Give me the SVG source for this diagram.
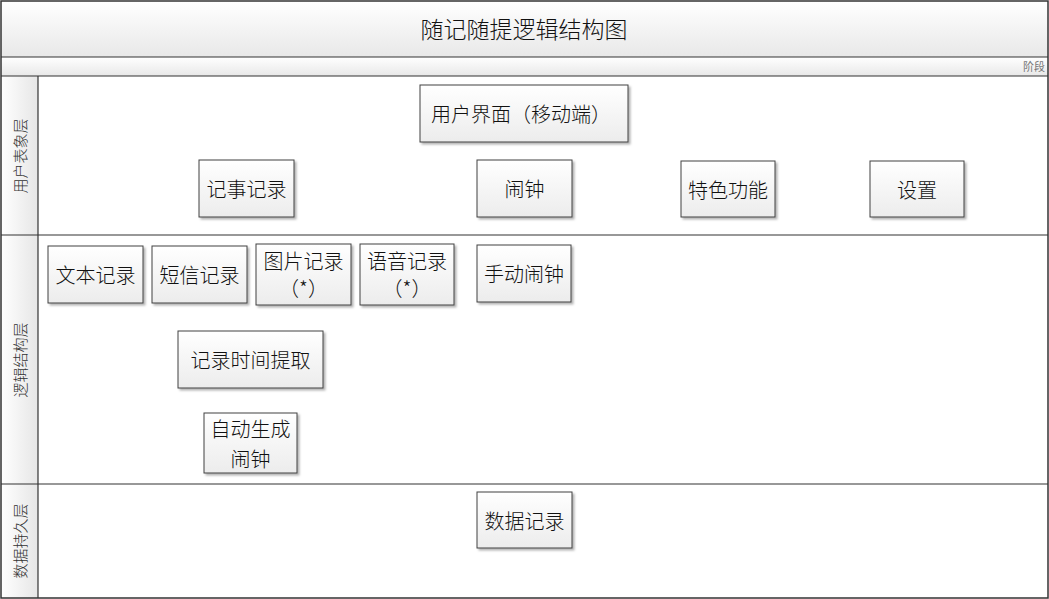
<svg xmlns="http://www.w3.org/2000/svg" width="1049" height="599" viewBox="0 0 1049 599">
<defs>
<linearGradient id="gv" x1="0" y1="0" x2="0" y2="1"><stop offset="0" stop-color="#ffffff"/><stop offset="1" stop-color="#e8e8e8"/></linearGradient>
<linearGradient id="gh" x1="0" y1="0" x2="1" y2="0"><stop offset="0" stop-color="#ffffff"/><stop offset="1" stop-color="#e6e6e6"/></linearGradient>
<linearGradient id="gb" x1="0" y1="0" x2="0" y2="1"><stop offset="0" stop-color="#ffffff"/><stop offset="1" stop-color="#ececec"/></linearGradient>
<filter id="sh" x="-10%" y="-10%" width="130%" height="130%"><feDropShadow dx="2" dy="2" stdDeviation="1.2" flood-color="#000" flood-opacity="0.3"/></filter>
</defs>
<style>
.frame{fill:none;stroke:#333;stroke-width:1.5}
.ln{stroke:#333;stroke-width:1.2}
.box{fill:url(#gb);stroke:#404040;stroke-width:1;filter:url(#sh)}
.t{font-family:"Noto Sans CJK SC","Liberation Sans",sans-serif;font-size:20px;font-weight:300;fill:#111;text-anchor:middle;dominant-baseline:central}
.lane{font-family:"Noto Sans CJK SC","Liberation Sans",sans-serif;font-size:15px;font-weight:300;fill:#333;text-anchor:middle;dominant-baseline:central}
</style>
<rect x="0" y="0" width="1049" height="599" fill="#fff"/>
<rect x="1" y="1" width="1047" height="56" fill="url(#gv)"/>
<rect x="1" y="57" width="1047" height="19" fill="url(#gv)"/>
<rect x="1" y="76" width="37" height="522" fill="url(#gh)"/>
<g id="frame">
<rect class="frame" x="1" y="1" width="1047" height="597"/>
<line class="ln" x1="1" y1="57" x2="1048" y2="57"/>
<line class="ln" x1="1" y1="76" x2="1048" y2="76"/>
<line class="ln" x1="1" y1="235" x2="1048" y2="235"/>
<line class="ln" x1="1" y1="484" x2="1048" y2="484"/>
<line class="ln" x1="38" y1="76" x2="38" y2="598"/>
</g>
<text x="524" y="28" font-family="'Noto Sans CJK SC','Liberation Sans',sans-serif" font-size="23" font-weight="300" fill="#111" text-anchor="middle" dominant-baseline="central">随记随提逻辑结构图</text>
<text x="1045" y="66" font-family="'Noto Sans CJK SC','Liberation Sans',sans-serif" font-size="11" fill="#777" text-anchor="end" dominant-baseline="central">阶段</text>
<text class="lane" transform="translate(19,156) rotate(-90)">用户表象层</text>
<text class="lane" transform="translate(19,360) rotate(-90)">逻辑结构层</text>
<text class="lane" transform="translate(19,541) rotate(-90)">数据持久层</text>
<g id="connectors"></g>
<g id="n-ui"><rect class="box" x="420" y="85" width="208" height="57"/><text class="t" x="521" y="113.500">用户界面（移动端）</text></g>
<g id="n-jishi"><rect class="box" x="199" y="160" width="95" height="57"/><text class="t" x="246.500" y="188.500">记事记录</text></g>
<g id="n-naozhong"><rect class="box" x="477" y="160" width="95" height="57"/><text class="t" x="524.500" y="188.500">闹钟</text></g>
<g id="n-tese"><rect class="box" x="681" y="161" width="94" height="56"/><text class="t" x="728" y="189">特色功能</text></g>
<g id="n-shezhi"><rect class="box" x="870" y="161" width="94" height="56"/><text class="t" x="917" y="189">设置</text></g>
<g id="n-wenben"><rect class="box" x="48" y="246" width="95" height="57"/><text class="t" x="95.500" y="274.500">文本记录</text></g>
<g id="n-duanxin"><rect class="box" x="152" y="246" width="95" height="57"/><text class="t" x="199.500" y="274.500">短信记录</text></g>
<g id="n-tupian"><rect class="box" x="256" y="244" width="95" height="61"/><text class="t" x="303.500" y="260">图片记录</text><text class="t" x="303.500" y="287">（*）</text></g>
<g id="n-yuyin"><rect class="box" x="360" y="244" width="94" height="61"/><text class="t" x="407" y="260">语音记录</text><text class="t" x="407" y="287">（*）</text></g>
<g id="n-shoudong"><rect class="box" x="477" y="245" width="94" height="57"/><text class="t" x="524" y="273.500">手动闹钟</text></g>
<g id="n-tiqu"><rect class="box" x="178" y="331" width="145" height="57"/><text class="t" x="250.500" y="359.500">记录时间提取</text></g>
<g id="n-zidong"><rect class="box" x="204" y="413" width="93" height="60"/><text class="t" x="250.500" y="428">自动生成</text><text class="t" x="250.500" y="458">闹钟</text></g>
<g id="n-shuju"><rect class="box" x="477" y="492" width="95" height="56"/><text class="t" x="524.500" y="520">数据记录</text></g>
</svg>
